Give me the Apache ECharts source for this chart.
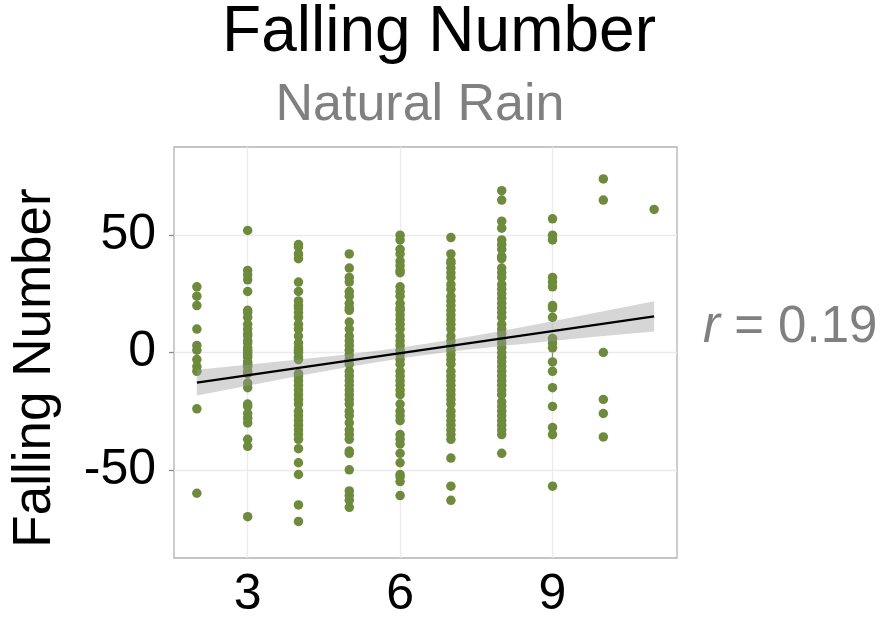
<!DOCTYPE html>
<html><head><meta charset="utf-8">
<script src="https://cdn.jsdelivr.net/npm/echarts@6/dist/echarts.min.js"></script>
<style>html,body{margin:0;padding:0;background:#fff}#c{width:881px;height:621px}</style>
</head><body><div id="c"></div>
<script>
// Residual-style scatter: x positions and y values per column
const xValues = [2, 3, 4, 5, 6, 7, 8, 9, 10, 11];
const y2 = [28, 24, 20, 10, 3, 1, -3, -6, -8, -24, -60];
const y3 = [52, 35, 33, 31, 26, 18, 17, 15, 12, 10, 8, 7, 5, 4, 2, 1, 0, -1, -2, -4, -5, -6, -8, -9, -13, -15, -22, -23, -26, -28, -30, -37, -40, -70];
const y4 = [46, 45, 42, 40, 30, 26, 22, 20, 19, 17, 15, 12, 10, 7, 4, 2, 1, 0, -2, -3, -9, -10, -12, -14, -16, -18, -20, -22, -25, -27, -29, -31, -33, -35, -37, -41, -47, -52, -65, -72];
const y5 = [42, 36, 32, 30, 26, 24, 21, 19, 18, 13, 10, 7, 5, 3, 1, -1, -3, -5, -8, -10, -12, -14, -16, -18, -20, -22, -25, -27, -30, -33, -35, -37, -42, -43, -50, -59, -61, -63, -66];
const y6 = [50, 48, 44, 42, 39, 37, 35, 34, 28, 26, 24, 21, 19, 18, 16, 14, 12, 10, 7, 5, 3, 1, -1, -3, -5, -8, -10, -12, -14, -16, -18, -22, -25, -27, -29, -35, -37, -39, -43, -47, -52, -53, -55, -61];
const y7 = [49, 42, 39, 38, 36, 34, 32, 29, 27, 24, 22, 20, 18, 16, 14, 12, 10, 7, 5, 3, 1, -1, -3, -5, -8, -10, -12, -14, -16, -18, -20, -22, -25, -27, -29, -31, -33, -35, -37, -45, -57, -63];
const y8 = [69, 65, 56, 53, 48, 46, 44, 41, 40, 36, 34, 32, 29, 27, 25, 23, 21, 19, 17, 15, 12, 10, 8, 6, 4, 2, 0, -2, -4, -6, -8, -10, -12, -14, -16, -18, -21, -23, -25, -27, -29, -31, -33, -35, -43];
const y9 = [57, 50, 48, 32, 30, 28, 20, 19, 15, 6, 4, 2, -4, -8, -15, -23, -32, -35, -57];
const y10 = [74, 65, 0, -20, -26, -36];
const y11 = [61];
const columns = [y2, y3, y4, y5, y6, y7, y8, y9, y10, y11];

// Fitted line and confidence band
const fitX = [2, 11];
const fitY = [-12.8, 15.4];
const bandX = [2, 3, 4, 5, 6, 7, 8, 9, 10, 11];
const bandLow = [-18.3, -14.2, -10.0, -6.1, -2.6, 0.4, 2.8, 4.9, 7.0, 8.9];
const bandHigh = [-7.3, -5.2, -3.0, -0.7, 2.0, 5.4, 9.2, 13.3, 17.6, 21.9];

const xTicks = [3, 6, 9];
const yTicks = [-50, 0, 50];
const rValue = '0.19';

const points = [];
columns.forEach((col, i) => col.forEach(v => points.push([xValues[i], v])));

const FONT = '"Liberation Sans", Arial, sans-serif';
const chart = echarts.init(document.getElementById('c'), null, {renderer: 'canvas'});
chart.setOption({
  animation: false,
  backgroundColor: '#fff',
  grid: {left: 174, top: 147, right: 204, bottom: 63, show: true, borderColor: '#b3b3b3', borderWidth: 1.3, backgroundColor: 'transparent'},
  xAxis: {
    type: 'value', min: 1.55, max: 11.45,
    axisLine: {show: false},
    axisTick: {show: true, customValues: xTicks, length: 5, lineStyle: {color: '#8a8a8a', width: 1.3}},
    axisLabel: {customValues: xTicks, fontSize: 50, color: '#000', fontFamily: FONT, margin: 12},
    splitLine: {show: true, lineStyle: {color: '#ebebeb', width: 1.3}}
  },
  yAxis: {
    type: 'value', min: -87.6, max: 87.6,
    axisLine: {show: false},
    axisTick: {show: true, customValues: yTicks, length: 5, lineStyle: {color: '#8a8a8a', width: 1.3}},
    axisLabel: {customValues: yTicks, fontSize: 50, color: '#000', fontFamily: FONT, margin: 18},
    splitLine: {show: true, lineStyle: {color: '#ebebeb', width: 1.3}}
  },
  graphic: [
    {type: 'text', x: 439, y: 33, style: {text: 'Falling Number', font: '64px ' + FONT, fill: '#000', align: 'center', verticalAlign: 'middle'}},
    {type: 'text', x: 420, y: 106, style: {text: 'Natural Rain', font: '52px ' + FONT, fill: '#808080', align: 'center', verticalAlign: 'middle'}},
    {type: 'text', x: 35, y: 368, rotation: Math.PI / 2, style: {text: 'Falling Number', font: '53px ' + FONT, fill: '#000', align: 'center', verticalAlign: 'middle'}},
    {type: 'text', x: 703, y: 328, style: {text: '{i|r} = ' + rValue, font: '51px ' + FONT, fill: '#808080', align: 'left', verticalAlign: 'middle',
      rich: {i: {fontStyle: 'italic', fontSize: 51, fontFamily: FONT, fill: '#808080'}}}}
  ],
  series: [
    {
      type: 'scatter', data: points, symbolSize: 9.5, z: 2,
      itemStyle: {color: '#6E8B3D', opacity: 1}
    },
    {
      type: 'custom', z: 3, data: [[bandX[0], bandLow[0]]], silent: true,
      renderItem: function (params, api) {
        const pts = [];
        for (let i = 0; i < bandX.length; i++) pts.push(api.coord([bandX[i], bandHigh[i]]));
        for (let i = bandX.length - 1; i >= 0; i--) pts.push(api.coord([bandX[i], bandLow[i]]));
        return {type: 'polygon', shape: {points: pts}, style: {fill: 'rgba(153,153,153,0.4)'}};
      }
    },
    {
      type: 'line', z: 4, data: fitX.map((x, i) => [x, fitY[i]]), showSymbol: false, silent: true,
      lineStyle: {color: '#000', width: 2.3}
    }
  ]
});
</script></body></html>
